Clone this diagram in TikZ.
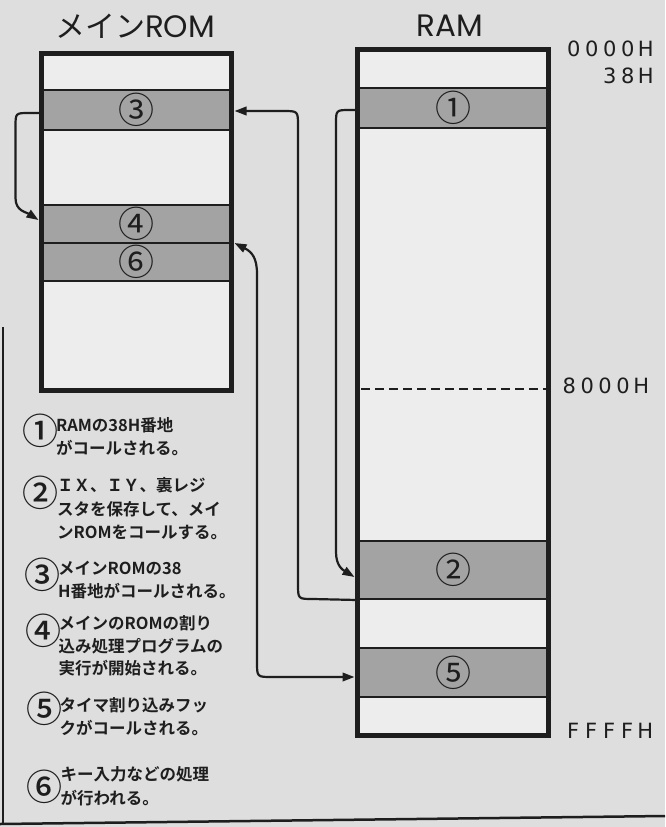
\documentclass[tikz,border=0pt]{standalone}
\usepackage{fontspec}
\usetikzlibrary{calc,arrows.meta}
\newfontfamily\jp{Noto Sans CJK JP}
\newfontfamily\jpm{Noto Sans CJK JP Medium}
\newfontfamily\jpb{Noto Sans CJK JP Bold}
\newfontfamily\lat{Poppins}
\newfontfamily\adf{DejaVu Sans}
\newcommand\cb[1]{\makebox[18pt][c]{#1}}
\definecolor{ink}{HTML}{1E1E1E}
\definecolor{pagebg}{HTML}{DEDEDE}
\definecolor{boxw}{HTML}{EDEDED}
\definecolor{bandg}{HTML}{A3A3A3}
\begin{document}
\begin{tikzpicture}[x=1pt,y=-1pt,
  boxbg/.style={fill=boxw, draw=none, inner sep=0pt},
  border/.style={draw=ink, line width=5pt},
  band/.style={fill=bandg, draw=ink, line width=2pt, inner sep=0pt,
    font=\jp\fontsize{36}{36}\selectfont, text=ink},
  conn/.style={draw=ink, line width=2.2pt, line cap=round},
  arr/.style={-{Triangle[length=12pt,width=8.5pt]}},
  arrtwo/.style={{Triangle[length=12pt,width=8.5pt]}-{Triangle[length=12pt,width=8.5pt]}},
  title/.style={font=\jp\fontsize{30}{30}\selectfont, inner sep=0pt, text=ink},
  addr/.style={font=\adf\fontsize{21}{21}\selectfont, inner sep=0pt, text=ink},
  leg/.style={font=\jpb\fontsize{16.5}{16.5}\selectfont, inner sep=0pt, anchor=base west, text=ink},
  num/.style={font=\jpm\fontsize{36}{36}\selectfont, inner sep=0pt, text=ink}]
\useasboundingbox (0,0) rectangle (665,827);
\fill[pagebg] (0,0) rectangle (665,827);

% frame of the page
\draw[ink, line width=1.5pt] (3,327) -- (3,824);
\draw[ink, line width=2.5pt] (0,824) -- (665,816);

% titles
\node[title] (tROM) at (135,26) {メイン{\lat\fontsize{31}{31}\selectfont ROM}};
\node[title] (tRAM) at (450,26) {{\lat\fontsize{31}{31}\selectfont RAM}};

% main ROM
\node[boxbg, minimum width=189pt, minimum height=336pt] (rom) at (136.5,222) {};
\node[band, minimum width=189pt, minimum height=40pt] (s3) at (136.5,110) {③};
\node[band, minimum width=189pt, minimum height=38pt] (s4) at (136.5,224) {④};
\node[band, minimum width=189pt, minimum height=38pt] (s6) at (136.5,262) {⑥};
\draw[border] (rom.north west) rectangle (rom.south east);

% RAM
\node[boxbg, minimum width=190pt, minimum height=685pt] (ram) at (453,392.5) {};
\node[band, minimum width=190pt, minimum height=40pt] (r1) at (453,108) {①};
\node[band, minimum width=190pt, minimum height=58pt] (r2) at (453,570) {②};
\node[band, minimum width=190pt, minimum height=49pt] (r5) at (453,672.5) {⑤};
\draw[ink, line width=2pt, dash pattern=on 9pt off 5pt] (361,389) -- (546,389);
\draw[border] (ram.north west) rectangle (ram.south east);

% addresses
\node[addr, anchor=east] (a0) at (655,49) {\cb{0}\cb{0}\cb{0}\cb{0}\cb{H}};
\node[addr, anchor=east] (a38) at (655,76) {\cb{3}\cb{8}\cb{H}};
\node[addr, anchor=west] (a8) at (560,386) {\cb{8}\cb{0}\cb{0}\cb{0}\cb{H}};
\node[addr, anchor=west] (aF) at (564,731) {\cb{F}\cb{F}\cb{F}\cb{F}\cb{H}};

% connectors
\draw[conn, arr] ($(s3.west)+(0,3)$) -- (29,113) .. controls (15.5,113) .. (15.5,127)
  -- (15.5,198) .. controls (15.5,211) and (26,212) .. ($(s4.west)+(-2.5,-4)$);
\draw[conn, arr] ($(r1.west)+(0,2)$) -- (350,110) .. controls (336,110) .. (336,124)
  -- (336,552) .. controls (336,566) and (343,570) .. ($(r2.west)+(-2.5,7)$);
\draw[conn, arr] (r2.south west) -- (313,599) .. controls (298,599) .. (298,584)
  -- (298,126) .. controls (298,111) .. (283,111) -- ($(s3.east)+(2.5,1)$);
\draw[conn, arrtwo] ($(s6.north east)+(2.5,1)$) .. controls (252,252) and (257,258) .. (257,274)
  -- (257,662) .. controls (257,677) .. (272,677) -- ($(r5.west)+(-2.5,4.5)$);

% legend
\node[num] (n1) at (40,431) {①};
\node[num] (n2) at (40,493) {②};
\node[num] (n3) at (42,575) {③};
\node[num] (n4) at (43,631) {④};
\node[num] (n5) at (44,709) {⑤};
\node[num] (n6) at (45,787) {⑥};
\node[leg] (t1a) at (56,431.3) {RAMの38H番地};
\node[leg] (t1b) at (56,454.3) {がコールされる。};
\node[leg] (t2a) at (57,491.3) {ＩＸ、ＩＹ、裏レジ};
\node[leg] (t2b) at (57,515.3) {スタを保存して、メイ};
\node[leg] (t2c) at (57,538.3) {ンROMをコールする。};
\node[leg] (t3a) at (58,574.3) {メインROMの38};
\node[leg] (t3b) at (58,597.3) {H番地がコールされる。};
\node[leg] (t4a) at (58.5,629.3) {メインのROMの割り};
\node[leg] (t4b) at (58.5,652.3) {込み処理プログラムの};
\node[leg] (t4c) at (58.5,674.3) {実行が開始される。};
\node[leg] (t5a) at (59.5,711.3) {タイマ割り込みフッ};
\node[leg] (t5b) at (59.5,734.3) {クがコールされる。};
\node[leg] (t6a) at (60.5,780.3) {キー入力などの処理};
\node[leg] (t6b) at (60.5,804.3) {が行われる。};
\end{tikzpicture}
\end{document}
